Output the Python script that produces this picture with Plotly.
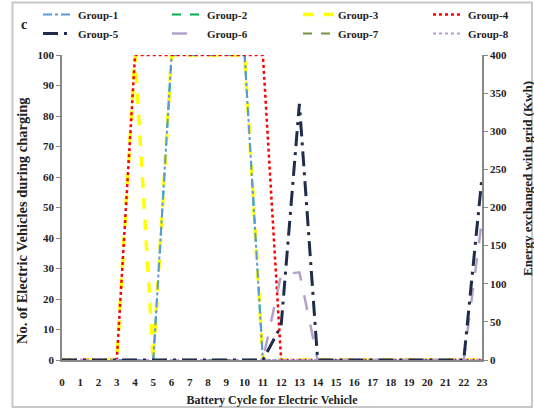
import plotly.graph_objects as go

cycles = list(range(24))
group1 = [0,0,0,0,0,0,100,100,100,100,100,0,0,0,0,0,0,0,0,0,0,0,0,0]
group2 = [0,0,0,0,0,0,100,100,100,100,100,0,0,0,0,0,0,0,0,0,0,0,0,0]
group3 = [0,0,0,0,100,0,100,100,100,100,100,0,0,0,0,0,0,0,0,0,0,0,0,0]
group4 = [0,0,0,0,100,100,100,100,100,100,100,100,0,0,0,0,0,0,0,0,0,0,0,0]
group5 = [0,0,0,0,0,0,0,0,0,0,0,0,45,336,0,0,0,0,0,0,0,0,0,240]
group6 = [0,0,0,0,0,0,0,0,0,0,0,0,112,115,0,0,0,0,0,0,0,0,0,184]
group7 = [0]*24
group8 = [0]*24

FONT = "Liberation Serif"
fig = go.Figure()

def add(name, y, color, dash, width, legend, rank, axis="y"):
    fig.add_trace(go.Scatter(
        x=cycles, y=y, name=name, mode="lines", yaxis=axis,
        line=dict(color=color, dash=dash, width=width),
        cliponaxis=False, legend=legend, legendrank=rank))

# drawing order chosen to match the overlaps in the picture
add("Group-7", group7, "#77933C", "dash", 2, "legend3", 2)
add("Group-8", group8, "#B59BD9", "dot", 2, "legend4", 2, "y2")
add("Group-2", group2, "#00B050", "dash", 2, "legend2", 1)
add("Group-3", group3, "#FFFF00", "dash", 3.5, "legend3", 1)
add("Group-1", group1, "#5B9BD5", "dashdot", 2, "legend", 1)
add("Group-4", group4, "#FF0000", "dot", 2.5, "legend4", 1)
add("Group-6", group6, "#B3A2C7", "longdash", 2.5, "legend2", 2, "y2")
add("Group-5", group5, "#1F2D4A", "longdashdot", 3, "legend", 2, "y2")

legend_font = dict(family=FONT, size=11, color="#222", weight="bold")
tick_font = dict(family=FONT, size=11, color="#222", weight="bold")

def legend_at(x):
    return dict(orientation="v", x=x, y=1.1803, xanchor="left", yanchor="top",
                tracegroupgap=0, font=legend_font, bgcolor="rgba(0,0,0,0)",
                itemwidth=30)

fig.update_layout(
    width=534, height=410,
    margin=dict(l=62, r=52, t=55, b=50, autoexpand=False),
    paper_bgcolor="white", plot_bgcolor="white",
    font=dict(family=FONT, size=11, color="#222"),
    xaxis=dict(range=[0, 23], tickmode="array", tickvals=cycles,
               ticktext=[str(c) for c in cycles], ticks="", showgrid=False,
               zeroline=False, showline=True, linecolor="#888", linewidth=1.5,
               tickfont=tick_font, ticklabelstandoff=11, automargin=False,
               title=dict(text="<b>Battery Cycle for Electric Vehicle</b>",
                          font=dict(family=FONT, size=12, color="#222"),
                          standoff=9)),
    yaxis=dict(range=[0, 100], dtick=10, ticks="outside", ticklen=4,
               tickcolor="#888", showgrid=False, zeroline=False, showline=True,
               linecolor="#888", linewidth=1.5, automargin=False,
               tickfont=tick_font),
    yaxis2=dict(range=[0, 400], dtick=50, overlaying="y", side="right",
                ticks="outside", ticklen=4, tickcolor="#888", showgrid=False,
                zeroline=False, showline=True, linecolor="#888", linewidth=1.5,
                automargin=False, tickfont=tick_font),
    legend=legend_at(-0.0571),
    legend2=legend_at(0.25),
    legend3=legend_at(0.5619),
    legend4=legend_at(0.8714),
    showlegend=True,
)
# vertical axis titles placed as rotated text annotations
fig.add_annotation(text="<b>No. of Electric Vehicles during charging</b>",
                   xref="paper", yref="paper", x=(22 - 62) / 420, y=(360 - 221) / 305,
                   xanchor="center", yanchor="middle",
                   textangle=-90, showarrow=False,
                   font=dict(family=FONT, size=14.5, color="#222"))
fig.add_annotation(text="<b>Energy exchanged with grid (Kwh)</b>",
                   xref="paper", yref="paper", x=(527 - 62) / 420, y=(360 - 179) / 305,
                   xanchor="center", yanchor="middle",
                   textangle=-90, showarrow=False,
                   font=dict(family=FONT, size=13, color="#222"))
fig.add_annotation(text="<b>c</b>", xref="paper", yref="paper",
                   x=(24 - 62) / 420, y=(360 - 25) / 305,
                   xanchor="center", yanchor="middle",
                   showarrow=False, font=dict(family=FONT, size=14, color="#222"))
fig.add_shape(type="rect", xref="paper", yref="paper",
              x0=-0.118, x1=1.119, y0=-0.154, y1=1.172,
              line=dict(color="#C8C8C8", width=2), layer="below")
fig.write_html("out.html", config={"displayModeBar": False},
               post_script="document.body.style.margin='0px';")
